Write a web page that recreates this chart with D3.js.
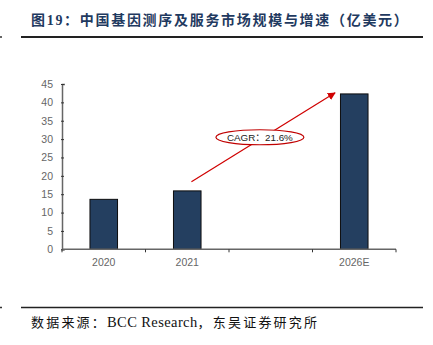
<!DOCTYPE html>
<html><head><meta charset="utf-8">
<script src="https://cdn.jsdelivr.net/npm/d3@7"></script>
<style>body{margin:0;background:#fff;} svg{display:block;}</style>
</head><body>
<svg id="c" width="433" height="345"></svg>
<script>
const titleText = "图19：中国基因测序及服务市场规模与增速（亿美元）";
const sourceParts = ["数据来源：", "BCC Research", "，东吴证券研究所"];
const categories = ["2020", "2021", "", "2026E"];
const values = [13.6, 15.9, null, 42.3];
const yTicks = [0, 5, 10, 15, 20, 25, 30, 35, 40, 45];
const cagrLabel = "CAGR：21.6%";
// annotation anchors in data space: [category, fraction in band, value]
const arrowFrom = ["2021", 0.55, 18.4];
const arrowTo = ["2026E", 0.27, 42.6];
const bubbleAt = ["", 0.37, 30.5];

const svg = d3.select("#c");
const L = 62, R = 396, T = 84, B = 249.3;

const x = d3.scaleBand().domain(categories.map((d,i)=>i)).range([L, R]).padding(0);
const y = d3.scaleLinear().domain([0, 45]).range([B, T]);
const px = a => x(categories.indexOf(a[0])) + x.bandwidth()*a[1];

// title
svg.append("text").attr("x", 31).attr("y", 20.5).attr("dominant-baseline","central")
  .attr("font-family","'Liberation Serif','Noto Sans CJK SC'").attr("font-weight","bold")
  .attr("font-size",14).attr("letter-spacing",1.7).attr("fill","#1f3a60").text(titleText);
svg.append("line").attr("x1",21).attr("x2",423).attr("y1",37).attr("y2",37).attr("stroke","#222").attr("stroke-width",2);
svg.append("line").attr("x1",0).attr("x2",2).attr("y1",37).attr("y2",37).attr("stroke","#333").attr("stroke-width",1.5);

// source
svg.append("line").attr("x1",21).attr("x2",423).attr("y1",307.5).attr("y2",307.5).attr("stroke","#222").attr("stroke-width",1.5);
svg.append("line").attr("x1",0).attr("x2",2).attr("y1",307.5).attr("y2",307.5).attr("stroke","#333").attr("stroke-width",1.5);
const st = svg.append("text").attr("x", 31).attr("y", 322).attr("dominant-baseline","central")
  .attr("font-family","'Liberation Serif','Noto Sans CJK SC'")
  .attr("font-size",13).attr("fill","#111");
st.append("tspan").attr("letter-spacing",2.2).text(sourceParts[0]);
st.append("tspan").attr("font-size",14.5).attr("letter-spacing",0.4).text(sourceParts[1]);
st.append("tspan").attr("letter-spacing",2.2).text(sourceParts[2]);

// bars
const bw = x.bandwidth()*0.33;
svg.append("g").selectAll("rect").data(values.map((v,i)=>({v,i})).filter(d=>d.v!=null))
  .join("rect")
  .attr("x", d => x(d.i) + x.bandwidth()/2 - bw/2)
  .attr("width", bw)
  .attr("y", d => y(d.v))
  .attr("height", d => y(0) - y(d.v))
  .attr("fill", "#243f60").attr("stroke","#0d0d0d").attr("stroke-width",1);

// y axis
const ya = svg.append("g").attr("transform",`translate(${L},0)`)
  .call(d3.axisLeft(y).tickValues(yTicks).tickSize(-3).tickPadding(9));
ya.select(".domain").attr("stroke","#666").attr("stroke-width",1.5);
ya.selectAll(".tick line").attr("stroke","#333").attr("transform","translate(-1,0)");
ya.selectAll("text").attr("font-family","Arial, 'Liberation Sans'").attr("font-size",10.5).attr("fill","#666");

// x axis
const xa = svg.append("g").attr("transform",`translate(0,${B})`);
xa.append("line").attr("x1",L).attr("x2",R).attr("stroke","#666").attr("stroke-width",1.5);
xa.selectAll(".tk").data(d3.range(categories.length+1)).join("line")
  .attr("x1", i => L + i*x.step()).attr("x2", i => L + i*x.step())
  .attr("y1",0).attr("y2",3).attr("stroke","#333");
xa.selectAll(".lb").data(categories).join("text")
  .attr("x",(d,i)=>x(i)+x.bandwidth()/2).attr("y",13).attr("dominant-baseline","central")
  .attr("text-anchor","middle").attr("font-family","Arial, 'Liberation Sans'")
  .attr("font-size",10.5).attr("fill","#666").text(d=>d);

// arrow
const defs = svg.append("defs");
defs.append("marker").attr("id","ah").attr("viewBox","0 0 10 10").attr("refX",9).attr("refY",5)
  .attr("markerWidth",8).attr("markerHeight",8).attr("markerUnits","userSpaceOnUse").attr("orient","auto")
  .append("path").attr("d","M0,0 L10,5 L0,10 z").attr("fill","#d00000");
const x1 = px(arrowFrom), y1 = y(arrowFrom[2]), x2 = px(arrowTo), y2 = y(arrowTo[2]);
svg.append("line").attr("x1",x1).attr("y1",y1).attr("x2",x2).attr("y2",y2)
  .attr("stroke","#d00000").attr("stroke-width",1.2).attr("marker-end","url(#ah)");

// bubble
const bx = px(bubbleAt), by = y(bubbleAt[2]);
svg.append("ellipse").attr("cx",bx).attr("cy",by).attr("rx",44).attr("ry",7.5)
  .attr("fill","#fff").attr("stroke","#c00000").attr("stroke-width",1.2);
svg.append("text").attr("x",bx).attr("y",by).attr("dominant-baseline","central").attr("text-anchor","middle")
  .attr("font-family","Arial, 'Liberation Sans', 'Noto Sans CJK SC'").attr("font-size",9.8).attr("fill","#222").text(cagrLabel);
</script>
</body></html>
